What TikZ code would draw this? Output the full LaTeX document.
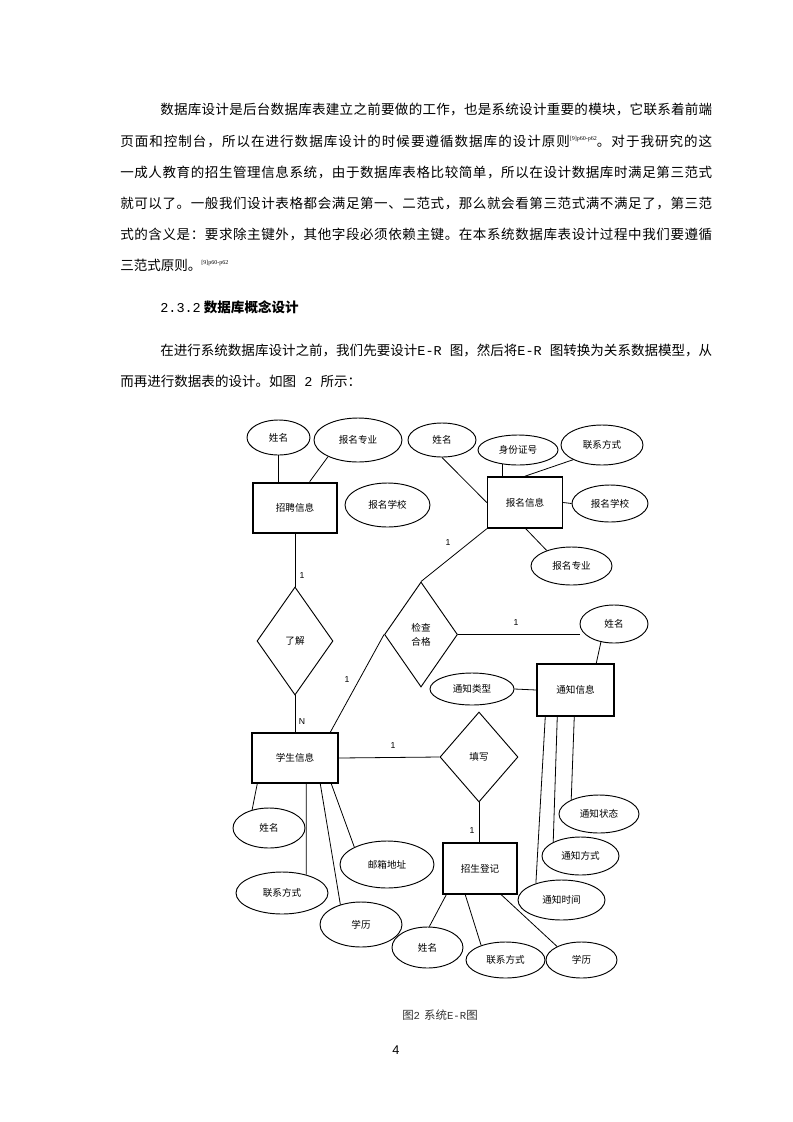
\documentclass[tikz,border=0pt]{standalone}
\usepackage{fontspec}
\setmainfont{Liberation Serif}
\newfontfamily\cjk{Noto Sans CJK SC}
\newfontfamily\monof{Liberation Mono}
\newfontfamily\sansf{Liberation Sans}
\usetikzlibrary{shapes.geometric,calc}
\newXeTeXintercharclass\mycjkclass
\makeatletter
\count@="4E00 \loop\ifnum\count@<"A000 \XeTeXcharclass\count@=\mycjkclass \advance\count@ 1 \repeat
\count@="3000 \loop\ifnum\count@<"3040 \XeTeXcharclass\count@=\mycjkclass \advance\count@ 1 \repeat
\count@="FF00 \loop\ifnum\count@<"FFF0 \XeTeXcharclass\count@=\mycjkclass \advance\count@ 1 \repeat
\makeatother
\newcommand{\cjkglue}{\hskip 0pt plus 1pt\relax}
\XeTeXinterchartoks \mycjkclass \mycjkclass = {\cjkglue}
\XeTeXinterchartoks \mycjkclass 0 = {\cjkglue}
\XeTeXinterchartoks 0 \mycjkclass = {\cjkglue}
\newcommand{\bfont}{\cjk\fontsize{10.15}{23}\selectfont}
\newcommand{\dfont}{\cjk\fontsize{7.2}{10.5}\selectfont}
\newcommand{\sups}[1]{\raisebox{4pt}{\fontsize{4.5}{5}\selectfont\rmfamily #1}}
\newcommand{\jline}[2]{\hbox to #1{\XeTeXinterchartokenstate=1 #2\XeTeXinterchartokenstate=0 }}
\begin{document}
\begin{tikzpicture}[x=0.75pt,y=-0.75pt,
  sz/.style n args={2}{minimum width={#1*0.75pt}, minimum height={#2*0.75pt}},
  ent/.style={draw, rectangle, inner sep=0pt, line width=1.1pt, font=\dfont},
  attr/.style={draw, ellipse, inner sep=0pt, line width=0.7pt, font=\dfont},
  rel/.style={draw, diamond, inner sep=0pt, line width=0.7pt, font=\dfont, align=center},
  lnk/.style={line width=0.6pt},
  card/.style={font=\sansf\fontsize{6.5}{7}\selectfont, inner sep=0pt},
  pl/.style={anchor=base west, inner sep=0pt, font=\bfont}
]
\path[fill=white] (0,0) rectangle (793,1122);

% ---- body text ----
\node[pl] (t1) at (160,114) {\jline{414pt}{数据库设计是后台数据库表建立之前要做的工作，也是系统设计重要的模块，它联系着前端}};
\node[pl] (t2) at (120,146) {\jline{444pt}{页面和控制台，所以在进行数据库设计的时候要遵循数据库的设计原则\sups{[9]p60-p62}。对于我研究的这}};
\node[pl] (t3) at (120,177) {\jline{444pt}{一成人教育的招生管理信息系统，由于数据库表格比较简单，所以在设计数据库时满足第三范式}};
\node[pl] (t4) at (120,208) {\jline{444pt}{就可以了。一般我们设计表格都会满足第一、二范式，那么就会看第三范式满不满足了，第三范}};
\node[pl] (t5) at (120,239) {\jline{444pt}{式的含义是：要求除主键外，其他字段必须依赖主键。在本系统数据库表设计过程中我们要遵循}};
\node[pl] (t6) at (120,270) {三范式原则。\sups{[9]p60-p62}};
\node[pl] (h1) at (160,312) {{\monof 2.3.2} \bfseries 数据库概念设计};
\node[pl] (t7) at (160,355) {\jline{414pt}{在进行系统数据库设计之前，我们先要设计{\monof E-R }图，然后将{\monof E-R }图转换为关系数据模型，从}};
\node[pl] (t8) at (120,386) {而再进行数据表的设计。如图{\monof\ 2\ }所示：};

% ---- entities ----
\node[ent, sz={84}{50}, line width=2pt] (zp) at (295,508) {招聘信息};
\node[ent, sz={75}{51}] (bm) at (525,502.5) {报名信息};
\node[ent, sz={77}{52}] (tz) at (575.5,690) {通知信息};
\node[ent, sz={86}{50}] (xs) at (295,758) {学生信息};
\node[ent, sz={74}{51}] (zs) at (480,868.5) {招生登记};

% ---- relationships ----
\node[rel, sz={76}{108}] (lj) at (295,641) {了解};
\node[rel, sz={73}{105}] (jc) at (421,634.5) {检查\\合格};
\node[rel, sz={78}{90}] (tx) at (479,757) {填写};

% ---- attributes ----
\node[attr, sz={63}{35}] (nA) at (278.5,437.5) {姓名};
\node[attr, sz={88}{44}] (zyA) at (358,440) {报名专业};
\node[attr, sz={85}{44}] (xxA) at (387.5,505) {报名学校};
\node[attr, sz={68}{34}] (nB) at (442,440) {姓名};
\node[attr, sz={80}{30}] (sf) at (518,450) {身份证号};
\node[attr, sz={82}{40}] (lxB) at (602,445) {联系方式};
\node[attr, sz={76}{37}] (xxB) at (610,503.5) {报名学校};
\node[attr, sz={81}{38}] (zyB) at (571.5,566) {报名专业};
\node[attr, sz={68}{38}] (nC) at (614,624) {姓名};
\node[attr, sz={84}{32}] (lxC) at (472,689) {通知类型};
\node[attr, sz={80}{38}] (zt) at (599,814) {通知状态};
\node[attr, sz={77}{38}] (fs) at (580.5,856) {通知方式};
\node[attr, sz={87}{40}] (sj) at (561.5,900) {通知时间};
\node[attr, sz={72}{40}] (nD) at (269,828) {姓名};
\node[attr, sz={92}{42}] (lxD) at (282,893) {联系方式};
\node[attr, sz={94}{47}] (yx) at (387,864.5) {邮箱地址};
\node[attr, sz={82}{45}] (xlD) at (361,924.5) {学历};
\node[attr, sz={71}{41}] (nE) at (427.5,947.5) {姓名};
\node[attr, sz={79}{36}] (lxE) at (505.5,960) {联系方式};
\node[attr, sz={71}{36}] (xlE) at (581.5,960) {学历};

% ---- connectors ----
\draw[lnk] (nA.south) -- (nA.south |- zp.north);
\draw[lnk] (zyA.209) -- ($(zp.north west)+(58,0)$);
\draw[lnk] (zp.south) -- (lj.north);
\draw[lnk] (lj.south) -- (xs.north);
\draw[lnk] ($(xs.north west)+(79,0)$) -- (jc.west);
\draw[lnk] (jc.north) -- (bm.south west);
\draw[lnk] (jc.east) -- (nC.west |- jc.east);
\draw[lnk] (xs.east) -- (tx.west);
\draw[lnk] (tx.south) -- (tx.south |- zs.north);
\draw[lnk] (nB.south) -- (bm.west);
\draw[lnk] (sf.223) -- (sf.223 |- bm.north);
\draw[lnk] (lxB.207) -- ($(bm.north west)+(38,0)$);
\draw[lnk] (bm.east) -- (xxB.west);
\draw[lnk] ($(bm.south west)+(39,0)$) -- (zyB.148);
\draw[lnk] (nC.234) -- ($(tz.north west)+(60,0)$);
\draw[lnk] (lxC.east) -- (tz.west);
\draw[lnk] ($(tz.south west)+(9,0)$) -- (sj.147);
\draw[lnk] ($(tz.south west)+(21,0)$) -- (fs.153);
\draw[lnk] ($(tz.south west)+(38,0)$) -- (zt.153);
\draw[lnk] ($(xs.south west)+(6,0)$) -- (nD.133);
\draw[lnk] ($(xs.south west)+(55,0)$) -- (lxD.37);
\draw[lnk] ($(xs.south west)+(69,0)$) -- (xlD.136);
\draw[lnk] ($(xs.south west)+(80,0)$) -- (yx.152);
\draw[lnk] ($(zs.south west)+(4,0)$) -- (nE.85);
\draw[lnk] ($(zs.south west)+(23,0)$) -- (lxE.149);
\draw[lnk] ($(zs.south west)+(59,0)$) -- (xlE.151);

% ---- cardinalities ----
\node[card] (c1) at (302,576) {1};
\node[card] (c2) at (302,722) {N};
\node[card] (c3) at (347,680) {1};
\node[card] (c4) at (448,543) {1};
\node[card] (c5) at (516,623) {1};
\node[card] (c6) at (393,746) {1};
\node[card] (c7) at (472,831) {1};

% ---- caption and page number ----
\node[inner sep=0pt, text=black!80, font=\cjk\fontsize{8.6}{10}\selectfont] (cap) at (440,1015) {图{\fontsize{8}{10}\selectfont\monof 2}\hspace{3pt}系统{\fontsize{8}{10}\selectfont\monof E-R}图};
\node[inner sep=0pt, font=\sansf\fontsize{9.5}{10}\selectfont] (pg) at (396,1050) {4};
\end{tikzpicture}
\end{document}
